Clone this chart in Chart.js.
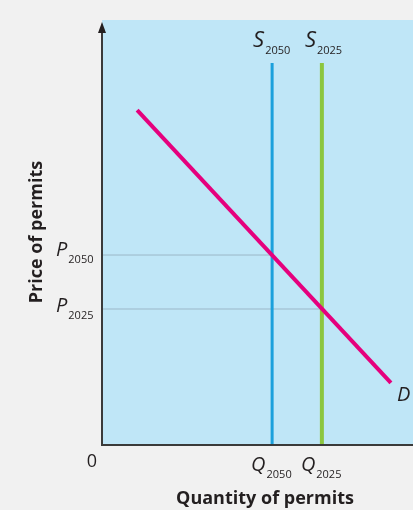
<!DOCTYPE html>
<html lang="en">
<head>
<meta charset="UTF-8">
<title>Permit market</title>
<script src="https://cdn.jsdelivr.net/npm/chart.js"></script>
<style>
  html, body { margin: 0; padding: 0; background: #f1f1f1; }
  #wrap { width: 413px; height: 510px; position: relative; }
</style>
</head>
<body>
<div id="wrap"><canvas id="grafico"></canvas></div>
<script>
// values (axis units 0..100)
var demanda = [{x: 11.3, y: 78.8}, {x: 92.9, y: 14.6}];
var qtd2050 = 54.7;
var qtd2025 = 70.7;
var preco2050 = 44.7;
var preco2025 = 32.0;
var topoOferta = 89.9;

var azul = '#1ba0dc';
var verde = '#8cc63f';
var magenta = '#e5007d';
var cinza = '#9bb7c8';

// rótulos com subscrito
function rotulo(ctx, letra, sub, x, y, tam) {
  ctx.font = 'italic ' + tam + 'px "Open Sans"';
  ctx.fillStyle = '#231f20';
  ctx.textBaseline = 'alphabetic';
  ctx.textAlign = 'left';
  ctx.fillText(letra, x, y);
  var w = ctx.measureText(letra).width;
  if (sub) {
    ctx.font = '11px "Open Sans"';
    ctx.fillText(sub, x + w + 1, y + 7);
  }
}

var desenhos = {
  id: 'desenhos',
  beforeDraw: function (chart) {
    var ctx = chart.ctx, a = chart.chartArea;
    ctx.save();
    ctx.fillStyle = '#bfe6f7';
    ctx.fillRect(a.left, a.top, a.right - a.left, a.bottom - a.top);
    ctx.restore();
  },
  afterDraw: function (chart) {
    var ctx = chart.ctx, a = chart.chartArea;
    var sx = chart.scales.x, sy = chart.scales.y;
    ctx.save();
    // eixos
    ctx.strokeStyle = '#3a3a3a';
    ctx.lineWidth = 2;
    ctx.beginPath();
    ctx.moveTo(a.left, 30);
    ctx.lineTo(a.left, a.bottom);
    ctx.lineTo(a.right, a.bottom);
    ctx.stroke();
    ctx.fillStyle = '#231f20';
    ctx.beginPath();
    ctx.moveTo(a.left, 22);
    ctx.lineTo(a.left - 4, 33);
    ctx.lineTo(a.left + 4, 33);
    ctx.closePath();
    ctx.fill();

    // textos
    rotulo(ctx, 'S', '2050', sx.getPixelForValue(qtd2050) - 19, 47, 22);
    rotulo(ctx, 'S', '2025', sx.getPixelForValue(qtd2025) - 17, 47, 22);
    rotulo(ctx, 'P', '2050', 56, sy.getPixelForValue(preco2050) + 1, 20);
    rotulo(ctx, 'P', '2025', 56, sy.getPixelForValue(preco2025) + 3, 20);
    rotulo(ctx, 'Q', '2050', sx.getPixelForValue(qtd2050) - 21, 471, 20);
    rotulo(ctx, 'Q', '2025', sx.getPixelForValue(qtd2025) - 21, 471, 20);
    rotulo(ctx, 'D', '', sx.getPixelForValue(demanda[1].x) + 6, sy.getPixelForValue(demanda[1].y) + 18, 20);

    ctx.font = '18px "Open Sans"';
    ctx.fillStyle = '#231f20';
    ctx.textAlign = 'center';
    ctx.fillText('0', 92, 467);

    ctx.font = 'bold 18px "Open Sans"';
    ctx.fillText('Quantity of permits', 265, 504);
    ctx.translate(42, 232);
    ctx.rotate(-Math.PI / 2);
    ctx.fillText('Price of permits', 0, 0);
    ctx.restore();
  }
};

var dados = {
  datasets: [
    {
      label: 'P2050',
      data: [{x: 0, y: preco2050}, {x: qtd2050, y: preco2050}],
      borderColor: cinza, borderWidth: 1, order: 5
    },
    {
      label: 'P2025',
      data: [{x: 0, y: preco2025}, {x: qtd2025, y: preco2025}],
      borderColor: cinza, borderWidth: 1, order: 4
    },
    {
      label: 'S2050',
      data: [{x: qtd2050, y: 0}, {x: qtd2050, y: topoOferta}],
      borderColor: azul, borderWidth: 3, order: 3
    },
    {
      label: 'S2025',
      data: [{x: qtd2025, y: 0}, {x: qtd2025, y: topoOferta}],
      borderColor: verde, borderWidth: 4, order: 2
    },
    {
      label: 'D',
      data: demanda,
      borderColor: magenta, borderWidth: 4, order: 1
    }
  ]
};

new Chart(document.getElementById('grafico'), {
  type: 'line',
  data: dados,
  options: {
    responsive: true,
    maintainAspectRatio: false,
    animation: false,
    events: [],
    layout: { padding: { left: 102, right: 0, top: 20, bottom: 65 } },
    elements: { point: { radius: 0 }, line: { borderCapStyle: 'butt', tension: 0 } },
    plugins: { legend: { display: false }, tooltip: { enabled: false } },
    scales: {
      x: { type: 'linear', min: 0, max: 100, display: false },
      y: { type: 'linear', min: 0, max: 100, display: false }
    }
  },
  plugins: [desenhos]
});
</script>
</body>
</html>
